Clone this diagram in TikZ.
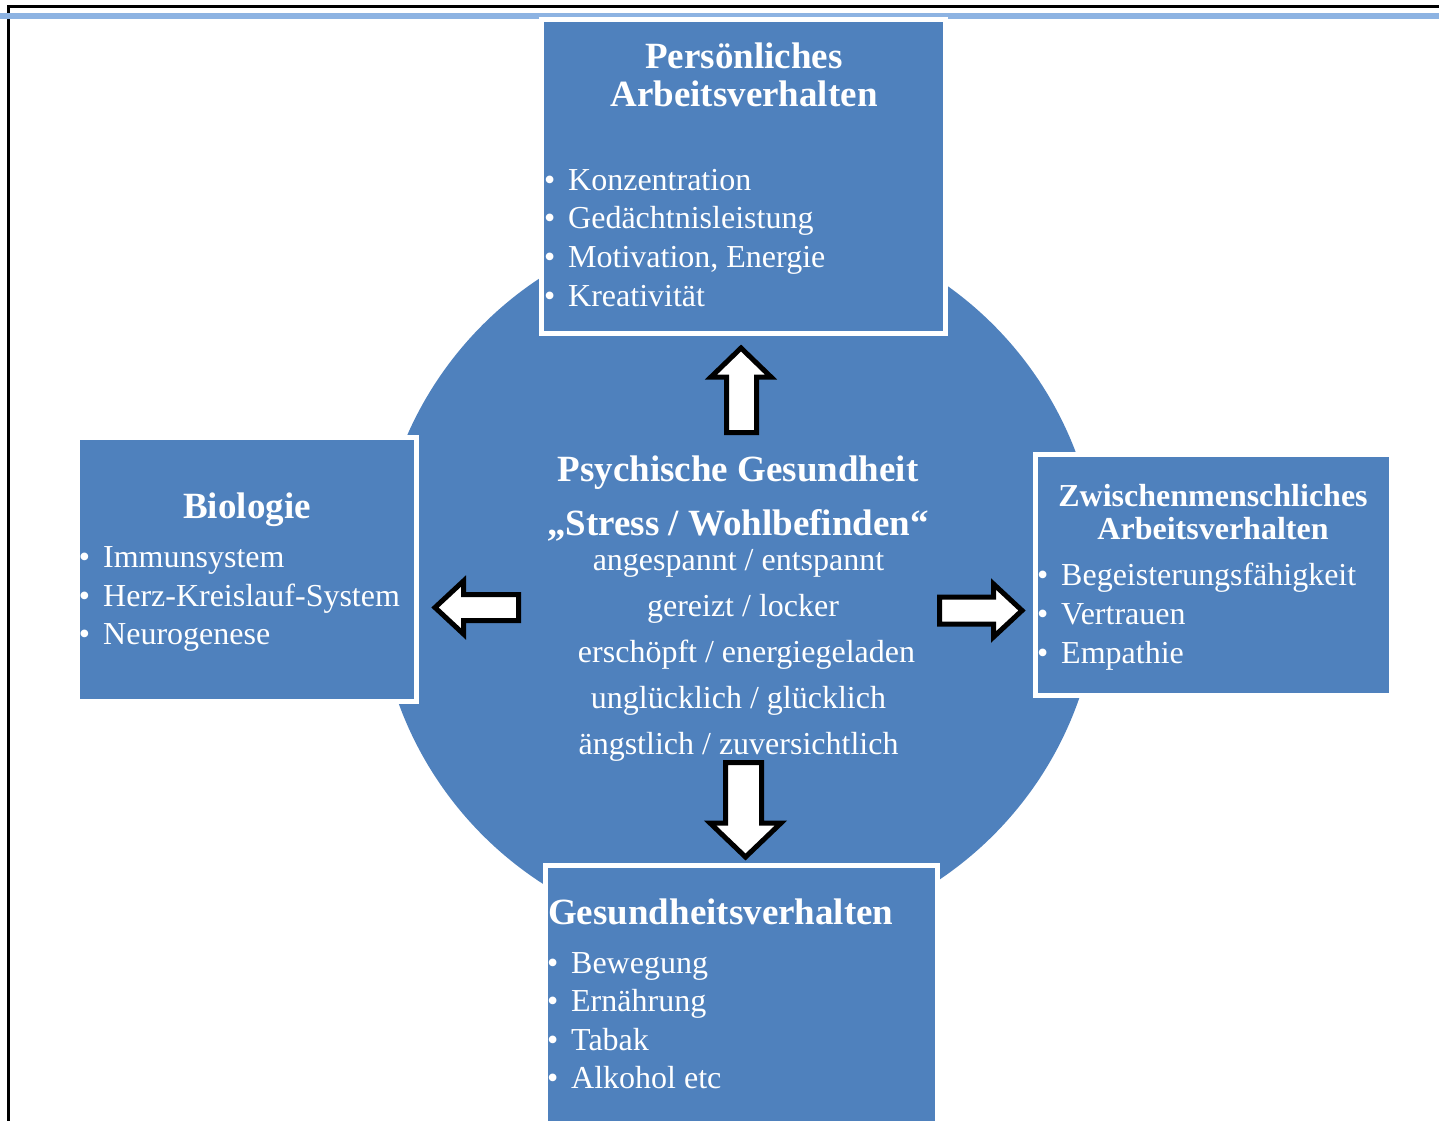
\documentclass[tikz,border=0pt]{standalone}
\usepackage{fontspec}
\setmainfont{Liberation Serif}
\definecolor{boxblue}{HTML}{4F81BD}
\definecolor{lineblue}{HTML}{8DB3E2}
\begin{document}
\begin{tikzpicture}[x=1pt,y=-1pt,
  box/.style={fill=boxblue,draw=white,line width=5pt,inner sep=0pt,outer sep=0pt,anchor=north west},
  txt/.style={text=white,font=\fontsize{32}{39}\selectfont,inner sep=0pt,anchor=base west},
  ctxt/.style={text=white,font=\fontsize{32}{39}\selectfont,inner sep=0pt,anchor=base},
  ttl/.style={text=white,font=\fontsize{37}{44}\selectfont\bfseries,inner sep=0pt,anchor=base},
  sttl/.style={text=white,font=\fontsize{32}{39}\selectfont\bfseries,inner sep=0pt,anchor=base},
  blockarrow/.style={fill=white,draw=black,line width=5pt,line join=miter}]
\newcommand{\bul}{\llap{•\hspace{13pt}}}
\useasboundingbox (0,0) rectangle (1439,1120);
\clip (0,0) rectangle (1439,1120);
% page frame
\fill[white] (0,0) rectangle (1439,1120);
\draw[line width=3pt] (8,1130) -- (8,6.5) -- (1450,6.5);
\fill[lineblue] (0,12.5) rectangle (1439,18.5);
% circle
\node[circle,fill=boxblue,minimum size=722pt,inner sep=0pt] (circ) at (738,580) {};
% boxes
\node[box,minimum width=404pt,minimum height=314pt] (top) at (541.5,19.5) {};
\node[box,minimum width=338.5pt,minimum height=264pt] (left) at (77.5,437.5) {};
\node[box,minimum width=356pt,minimum height=241pt] (right) at (1035.5,454.5) {};
\node[box,minimum width=392pt,minimum height=280pt] (bottom) at (545.5,865.5) {};
% top box text
\node[ttl] (t0) at (744,68) {Persönliches};
\node[ttl] (t0b) at (744,106) {Arbeitsverhalten};
\node[txt] (t1) at (568,190) {\bul Konzentration};
\node[txt] (t2) at (568,228) {\bul Gedächtnisleistung};
\node[txt] (t3) at (568,267) {\bul Motivation, Energie};
\node[txt] (t4) at (568,306) {\bul Kreativität};
% left box text
\node[ttl] (l0) at (247,518) {Biologie};
\node[txt] (l1) at (103,567) {\bul Immunsystem};
\node[txt] (l2) at (103,606) {\bul Herz-Kreislauf-System};
\node[txt] (l3) at (103,644) {\bul Neurogenese};
% right box text
\node[sttl] (r0) at (1213,506) {Zwischenmenschliches};
\node[sttl] (r0b) at (1213,539) {Arbeitsverhalten};
\node[txt] (r1) at (1061,585) {\bul Begeisterungsfähigkeit};
\node[txt] (r2) at (1061,624) {\bul Vertrauen};
\node[txt] (r3) at (1061,663) {\bul Empathie};
% bottom box text
\node[ttl,anchor=base west] (b0) at (548,924) {Gesundheitsverhalten};
\node[txt] (b1) at (571,973) {\bul Bewegung};
\node[txt] (b2) at (571,1011) {\bul Ernährung};
\node[txt] (b3) at (571,1050) {\bul Tabak};
\node[txt] (b4) at (571,1088) {\bul Alkohol etc};
% centre text
\node[ttl] (c0) at (738,481) {Psychische Gesundheit};
\node[ttl] (c1) at (738,535) {„Stress / Wohlbefinden“};
\node[ctxt] (c2) at (738.5,570) {angespannt / entspannt};
\node[ctxt] (c3) at (743,616) {gereizt / locker};
\node[ctxt] (c4) at (746.5,662) {erschöpft / energiegeladen};
\node[ctxt] (c5) at (738.5,708) {unglücklich / glücklich};
\node[ctxt] (c6) at (738.5,754) {ängstlich / zuversichtlich};
% block arrows
\draw[blockarrow] (741,348) -- (771,377) -- (756.5,377) -- (756.5,432.5) -- (726.5,432.5) -- (726.5,377) -- (711,377) -- cycle;
\draw[blockarrow] (725.5,762.5) -- (761.5,762.5) -- (761.5,823) -- (781,823) -- (745.5,857) -- (710,823) -- (725.5,823) -- cycle;
\draw[blockarrow] (435,607.5) -- (463.5,581) -- (463.5,594.5) -- (518.5,594.5) -- (518.5,620.5) -- (463.5,620.5) -- (463.5,634) -- cycle;
\draw[blockarrow] (939.5,597) -- (993.5,597) -- (993.5,584) -- (1022,610.5) -- (993.5,637) -- (993.5,624) -- (939.5,624) -- cycle;
\end{tikzpicture}
\end{document}
